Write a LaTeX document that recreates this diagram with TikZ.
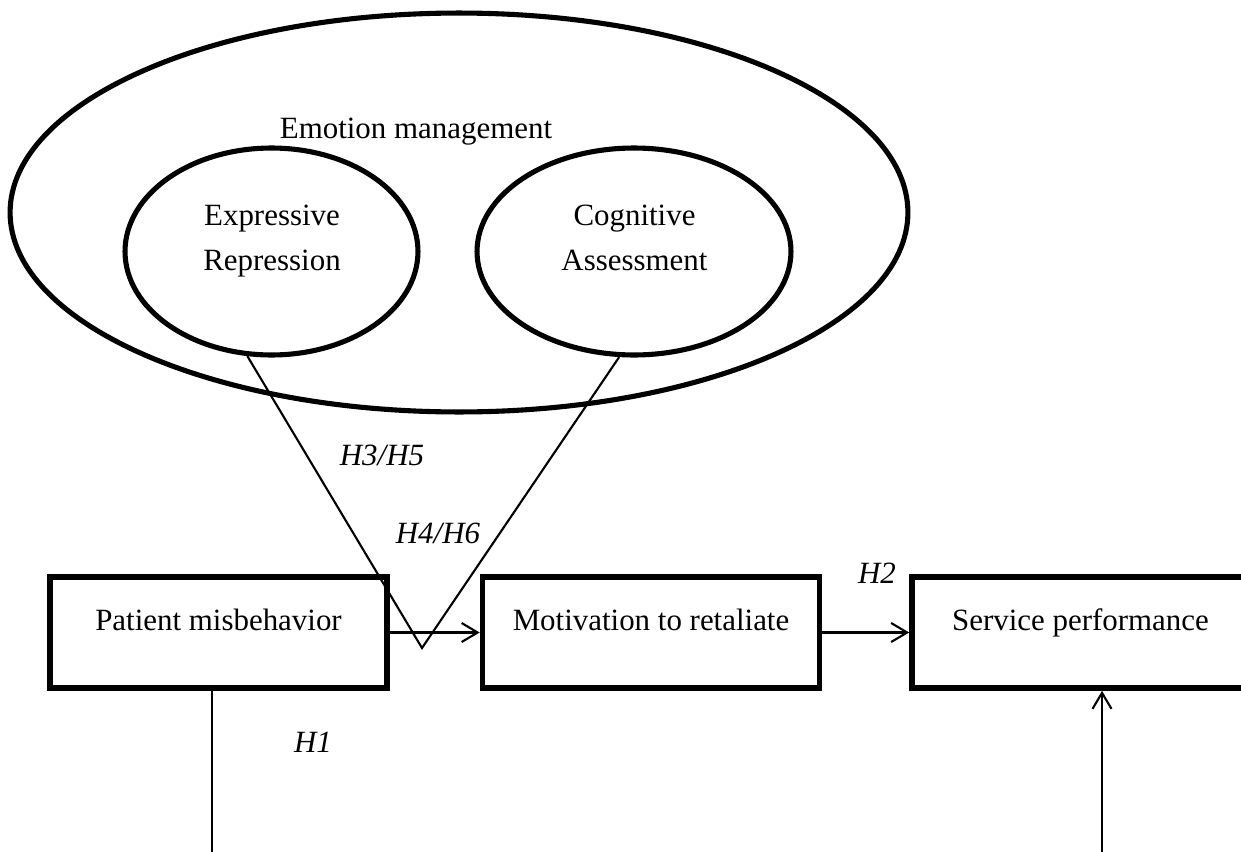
\documentclass[tikz,border=0pt]{standalone}
\usepackage{fontspec}
\setmainfont{Liberation Serif}
\usetikzlibrary{shapes.geometric, arrows.meta}

\begin{document}
\begin{tikzpicture}[x=0.02cm, y=-0.02cm,
        every node/.style={font=\fontsize{17.6}{25.5}\selectfont},
        box/.style={draw, rectangle, line width=3.2pt, minimum width=6.74cm, inner sep=0pt, text height=1.06cm, text depth=1.16cm},
        oval/.style={draw, ellipse, line width=2.9pt, inner sep=0pt},
        hyp/.style={font=\fontsize{17.6}{21}\selectfont\itshape, anchor=base},
        link/.style={line width=1.2pt},
        >={Straight Barb[length=0.32cm, width=0.38cm]}]
            \useasboundingbox (0,0) rectangle (1241,852);
            \clip (0,0) rectangle (1241,852);
            \node[oval, minimum width=17.96cm, minimum height=7.98cm] (em) at (459,212.5) {};
            \node[anchor=base] (emtext) at (416,138) {Emotion management};
            \node[oval, minimum width=5.86cm, minimum height=4.14cm] (er) at (271.5,251.5) {};
            \node[oval, minimum width=6.28cm, minimum height=4.14cm] (ca) at (634,251.5) {};
            \node[anchor=base, align=center] (ertext) at (272,270) {Expressive\\Repression};
            \node[anchor=base, align=center] (catext) at (634.5,270) {Cognitive\\Assessment};
            \foreach \name/\xc/\txt in {pm/218.5/Patient misbehavior, mr/651/Motivation to retaliate, sp/1080.5/Service performance} {
                \node[box] (\name) at (\xc,632.5) {\txt};
            }
            \coordinate (vtip) at (422,648);
            \coordinate (pmfoot) at (212,852);
            \coordinate (spfoot) at (1102,852);
            \draw[link] (er.-103) -- (vtip) -- (ca.-98);
            \draw[link, ->] (pm) -- (mr);
            \draw[link, ->] (mr) -- (sp);
            \draw[link] (pmfoot |- pm.south) -- (pmfoot);
            \draw[link, ->] (spfoot) -- (spfoot |- sp.south);
            \foreach \name/\xc/\yb/\txt in {hone/313/752/H1, htwo/877/583/H2, hthree/382/465/{H3/H5}, hfour/438/543/{H4/H6}} {
                \node[hyp] (\name) at (\xc,\yb) {\txt};
            }
        \end{tikzpicture}
\end{document}
